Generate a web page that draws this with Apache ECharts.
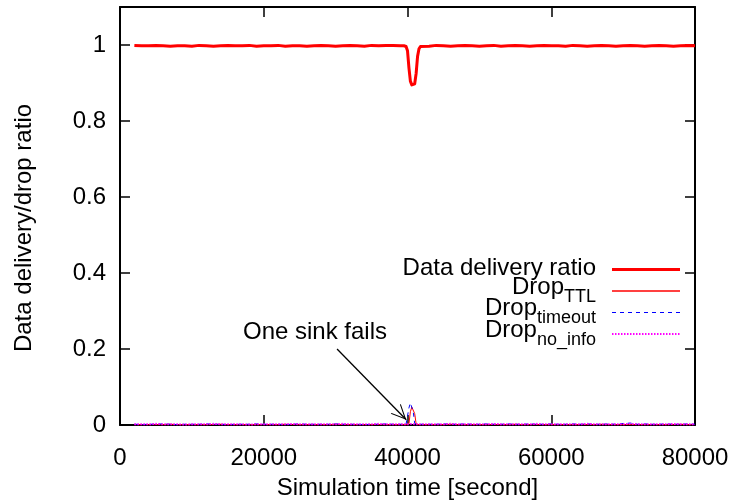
<!DOCTYPE html>
<html><head><meta charset="utf-8">
<script src="https://cdn.jsdelivr.net/npm/echarts@6/dist/echarts.min.js"></script>
<style>html,body{margin:0;padding:0;background:#fff}#c{width:734px;height:502px}</style>
</head><body><div id="c"></div>
<script>
const FONT = "'Liberation Sans', Arial, Helvetica, sans-serif";

// Simulation time [second]
const times = [
  2000,3000,4000,5000,6000,7000,8000,9000,10000,11000,
  12000,13000,14000,15000,16000,17000,18000,19000,20000,21000,
  22000,23000,24000,25000,26000,27000,28000,29000,30000,31000,
  32000,33000,34000,35000,36000,37000,38000,39000,
  39500,39800,40000,40200,40400,40600,40800,41000,41200,41400,41600,41800,
  42000,43000,44000,45000,46000,47000,48000,49000,50000,51000,
  52000,53000,54000,55000,56000,57000,58000,59000,60000,61000,
  62000,63000,64000,65000,66000,67000,68000,69000,70000,71000,
  72000,73000,74000,75000,76000,77000,78000,79000,80000
];
const deliveryRatio = [
  0.999,0.998,0.998,0.999,0.998,0.997,0.998,0.998,0.997,0.999,
  0.998,0.997,0.998,0.999,0.998,0.998,0.999,0.997,0.998,0.998,
  0.999,0.997,0.998,0.998,0.997,0.998,0.999,0.998,0.997,0.998,
  0.999,0.998,0.997,0.999,0.998,0.999,0.999,0.998,
  0.998,0.996,0.985,0.94,0.905,0.895,0.893,0.898,0.925,0.97,0.99,0.996,
  0.998,0.997,0.999,0.998,0.997,0.998,0.999,0.998,0.997,0.998,
  0.999,0.997,0.998,0.999,0.998,0.997,0.998,0.999,0.998,0.998,
  0.997,0.999,0.998,0.997,0.998,0.999,0.998,0.997,0.998,0.999,
  0.998,0.997,0.998,0.999,0.998,0.997,0.998,0.999,0.998
];
const dropTTL = [
  0.001,0.001,0.001,0.001,0.001,0.002,0.001,0.001,0.001,0.001,
  0.001,0.001,0.002,0.001,0.001,0.001,0.001,0.001,0.001,0.001,
  0.001,0.002,0.001,0.001,0.001,0.001,0.001,0.001,0.002,0.001,
  0.001,0.001,0.001,0.001,0.001,0.001,0.001,0.001,
  0.001,0.001,0.001,0.003,0.035,0.047,0.047,0.03,0.003,0.001,0.001,0.001,
  0.001,0.001,0.001,0.001,0.002,0.001,0.001,0.001,0.001,0.001,
  0.001,0.001,0.001,0.002,0.001,0.001,0.001,0.001,0.001,0.001,
  0.001,0.001,0.001,0.001,0.001,0.002,0.001,0.001,0.001,0.001,
  0.001,0.001,0.001,0.001,0.001,0.001,0.002,0.001,0.001
];
const dropTimeout = [
  0.002,0.001,0.002,0.002,0.003,0.002,0.001,0.002,0.002,0.002,
  0.003,0.002,0.002,0.001,0.002,0.002,0.002,0.003,0.002,0.002,
  0.002,0.001,0.002,0.003,0.002,0.002,0.002,0.002,0.003,0.002,
  0.002,0.002,0.001,0.002,0.002,0.003,0.002,0.002,
  0.002,0.002,0.006,0.045,0.058,0.055,0.035,0.004,0.002,0.002,0.002,0.002,
  0.003,0.002,0.002,0.003,0.002,0.002,0.003,0.002,0.002,0.003,
  0.002,0.002,0.003,0.002,0.002,0.003,0.002,0.002,0.003,0.002,
  0.002,0.003,0.002,0.003,0.002,0.002,0.003,0.002,0.004,0.005,
  0.002,0.003,0.002,0.002,0.003,0.002,0.002,0.003,0.002
];
const dropNoInfo = [
  0.002,0.002,0.002,0.003,0.002,0.002,0.002,0.001,0.002,0.002,
  0.002,0.003,0.002,0.002,0.002,0.002,0.001,0.002,0.002,0.002,
  0.002,0.002,0.003,0.002,0.002,0.002,0.002,0.002,0.002,0.003,
  0.002,0.002,0.002,0.002,0.003,0.002,0.002,0.002,
  0.002,0.002,0.002,0.002,0.003,0.003,0.002,0.002,0.002,0.002,0.002,0.002,
  0.002,0.002,0.002,0.002,0.003,0.002,0.002,0.002,0.002,0.002,
  0.003,0.002,0.002,0.002,0.002,0.002,0.003,0.002,0.002,0.002,
  0.002,0.002,0.002,0.003,0.002,0.002,0.002,0.002,0.002,0.003,
  0.002,0.002,0.002,0.002,0.002,0.003,0.002,0.002,0.002
];

// legend texts
const legendMain = ['Data delivery ratio', 'Drop', 'Drop', 'Drop'];
const legendSub  = ['', 'TTL', 'timeout', 'no_info'];
// annotation
const annotationText = 'One sink fails';
const annotationAt = [27130, 0.243];
const arrowFrom = [30200, 0.2];
const arrowTo = [39830, 0.014];

// styles
const colors = ['#ff0000', '#ff0000', '#0000ff', '#ff00ff'];
const widths = [3, 1, 1, 2];
const keyWidths = [3, 1.4, 1, 2];
const dashes = [null, null, [4, 4], [1.5, 1.5]];

const seriesValues = [deliveryRatio, dropTTL, dropTimeout, dropNoInfo];
const seriesNames = ['Data delivery ratio', 'Drop TTL', 'Drop timeout', 'Drop no_info'];

const ctx = document.createElement('canvas').getContext('2d');
function textW(t, size) { ctx.font = size + 'px ' + FONT; return ctx.measureText(t).width; }

const chart = echarts.init(document.getElementById('c'), null, {renderer: 'canvas'});

const axisCommon = {
  type: 'value',
  axisLine: {show: true, onZero: false, lineStyle: {color: '#000', width: 2}},
  axisTick: {show: true, inside: true, length: 10, lineStyle: {color: '#000', width: 1.5}},
  splitLine: {show: false},
  minorTick: {show: false}
};
const labelStyle = {fontSize: 24, color: '#000', fontFamily: FONT};

const series = seriesValues.map((vals, k) => ({
  type: 'line',
  name: seriesNames[k],
  xAxisIndex: 0, yAxisIndex: 0,
  data: times.map((t, i) => [t, vals[i]]),
  showSymbol: false, symbol: 'none',
  z: 3 + k,
  lineStyle: {color: colors[k], width: widths[k], type: dashes[k] || 'solid', cap: 'butt', join: 'round'},
  itemStyle: {color: colors[k]},
  emphasis: {disabled: true}
}));

series.push({
  type: 'line',
  name: 'annotation',
  xAxisIndex: 0, yAxisIndex: 0,
  data: [],
  z: 10,
  markLine: {
    silent: true,
    animation: false,
    label: {show: false},
    lineStyle: {color: '#000', width: 1.3, type: 'solid'},
    data: [[
      {coord: arrowFrom, symbol: 'none'},
      {coord: arrowTo, symbol: 'path://M10,0L10.01,0M10,12L20,24L18.4,24L10,14L1.6,24L0,24Z', symbolSize: [14, 30]}
    ]]
  },
  markPoint: {
    silent: true,
    animation: false,
    symbol: 'circle', symbolSize: 0,
    label: {show: true, position: 'inside', formatter: '{b}', fontSize: 24, color: '#000', fontFamily: FONT},
    data: [{coord: annotationAt, name: annotationText}]
  }
});

// key (gnuplot-style: text right-aligned, sample to the right)
const rowY = [269.5, 291, 312.5, 334];
const keyTextRight = 596, sampleX1 = 612, sampleX2 = 680;
const graphics = [];
legendMain.forEach((m, i) => {
  const y = rowY[i];
  graphics.push({type: 'line', silent: true, z: 20,
    shape: {x1: sampleX1, y1: y, x2: sampleX2, y2: y},
    style: {stroke: colors[i], lineWidth: keyWidths[i], lineDash: dashes[i] || null}});
  if (!legendSub[i]) {
    graphics.push({type: 'text', silent: true, z: 20, x: keyTextRight, y: y - 1.5,
      style: {text: m, fontSize: 24, fontFamily: FONT, fill: '#000', align: 'right', verticalAlign: 'middle'}});
  } else {
    const sw = textW(legendSub[i], 18);
    graphics.push({type: 'text', silent: true, z: 20, x: keyTextRight - sw, y: y - 4,
      style: {text: m, fontSize: 24, fontFamily: FONT, fill: '#000', align: 'right', verticalAlign: 'middle'}});
    graphics.push({type: 'text', silent: true, z: 20, x: keyTextRight, y: y + 6,
      style: {text: legendSub[i], fontSize: 18, fontFamily: FONT, fill: '#000', align: 'right', verticalAlign: 'middle'}});
  }
});

const option = {
  animation: false,
  backgroundColor: '#ffffff',
  grid: {left: 120, right: 39, top: 7, bottom: 77, containLabel: false, outerBoundsMode: 'none'},
  xAxis: [
    Object.assign({}, axisCommon, {
      position: 'bottom', min: 0, max: 80000, interval: 20000,
      axisLabel: Object.assign({margin: 21, formatter: v => String(v)}, labelStyle),
      name: 'Simulation time [second]', nameLocation: 'middle', nameGap: 51,
      nameTextStyle: labelStyle
    }),
    Object.assign({}, axisCommon, {
      position: 'top', min: 0, max: 80000, interval: 20000,
      axisLabel: {show: false}
    })
  ],
  yAxis: [
    Object.assign({}, axisCommon, {
      position: 'left', min: 0, max: 1.1, interval: 0.2,
      axisLabel: Object.assign({margin: 14, showMaxLabel: false, formatter: v => String(Math.round(v * 10) / 10)}, labelStyle),
      name: 'Data delivery/drop ratio', nameLocation: 'middle', nameGap: 84,
      nameTextStyle: Object.assign({padding: [0, 24, 0, 0]}, labelStyle)
    }),
    Object.assign({}, axisCommon, {
      position: 'right', min: 0, max: 1.1, interval: 0.2,
      axisLabel: {show: false}
    })
  ],
  series: series,
  graphic: graphics
};
chart.setOption(option);
</script>
</body></html>
